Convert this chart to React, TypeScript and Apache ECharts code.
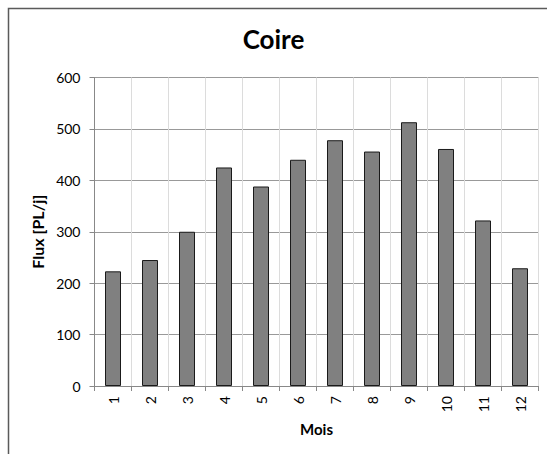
import React, { useEffect, useRef } from "react";
import * as echarts from "echarts";

const months = ["1", "2", "3", "4", "5", "6", "7", "8", "9", "10", "11", "12"];
const flux = [223, 245, 300, 425, 388, 440, 478, 456, 513, 461, 322, 229];
const yTicks = { min: 0, max: 600, interval: 100 };

const FONT = "Lato, 'Open Sans', sans-serif";

export default function App() {
  const ref = useRef<HTMLDivElement>(null);
  useEffect(() => {
    if (!ref.current) return;
    const chart = echarts.init(ref.current, undefined, { renderer: "svg" });
    chart.setOption({
      animation: false,
      backgroundColor: "#ffffff",
      title: {
        text: "Coire",
        left: "center",
        top: 21,
        textStyle: { fontFamily: FONT, fontSize: 26, fontWeight: "bold", color: "#000" },
      },
      graphic: [
        {
          type: "polyline",
          shape: { points: [[8.5, 700], [8.5, 8.5], [700, 8.5]] },
          style: { fill: "none", stroke: "#5a5a5a", lineWidth: 1.5 },
          silent: true,
        },
      ],
      grid: { left: 94.5, right: 8.5, top: 77.5, bottom: 68, containLabel: false },
      xAxis: {
        type: "category",
        data: months,
        name: "Mois",
        nameLocation: "middle",
        nameGap: 35,
        nameTextStyle: { fontFamily: FONT, fontSize: 15, fontWeight: "bold", color: "#000" },
        axisLine: { show: true, lineStyle: { color: "#888", width: 1 } },
        axisTick: { show: true, length: 5, alignWithLabel: false, lineStyle: { color: "#888" } },
        axisLabel: { rotate: 90, margin: 10, fontFamily: FONT, fontSize: 14, color: "#000" },
        splitLine: { show: true, interval: 0, lineStyle: { color: "#dcdcdc", width: 1 } },
      },
      yAxis: {
        type: "value",
        min: yTicks.min,
        max: yTicks.max,
        interval: yTicks.interval,
        name: "Flux [PL/j]",
        nameLocation: "middle",
        nameGap: 49,
        nameTextStyle: { fontFamily: FONT, fontSize: 16, fontWeight: "bold", color: "#000" },
        axisLine: { show: true, lineStyle: { color: "#888", width: 1 } },
        axisTick: { show: true, length: 5, lineStyle: { color: "#888" } },
        axisLabel: { margin: 14, fontFamily: FONT, fontSize: 14, color: "#000" },
        splitLine: { show: true, lineStyle: { color: "#999", width: 1 } },
      },
      series: [
        {
          type: "bar",
          data: flux,
          barWidth: 16,
          itemStyle: { color: "#808080", borderColor: "#1a1a1a", borderWidth: 1 },
        },
      ],
    });
    return () => chart.dispose();
  }, []);
  return (
    <div
      ref={ref}
      style={{ position: "absolute", left: 0, top: 0, width: 547, height: 454 }}
    />
  );
}
